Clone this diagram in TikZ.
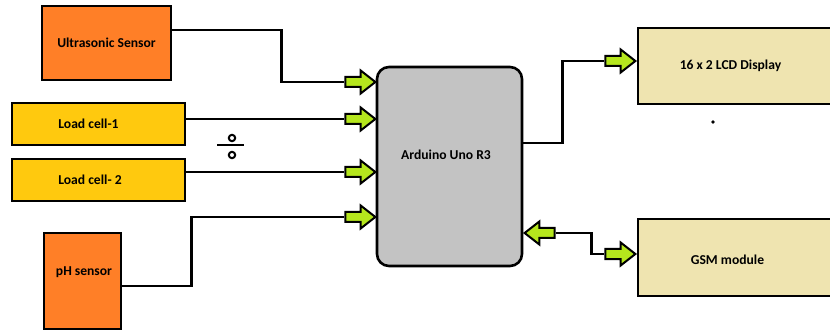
\documentclass[tikz,border=0pt]{standalone}
\usepackage{fontspec}
\setmainfont{Carlito}
\usepackage{tikz}
\usetikzlibrary{shapes.arrows}

\definecolor{sensororange}{HTML}{FF7F27}
\definecolor{cellyellow}{HTML}{FFC90E}
\definecolor{boardgray}{HTML}{C3C3C3}
\definecolor{outtan}{HTML}{EFE4B0}
\definecolor{arrowgreen}{HTML}{B5E61D}

\begin{document}
\begin{tikzpicture}[
    x = 1pt, y = -1pt,
    line width = 2.6pt,
    font = \bfseries\fontsize{13.6}{15}\selectfont,
    block/.style = {draw, rectangle, inner sep = 0pt},
    sensor/.style = {fill = sensororange},
    cell/.style = {fill = cellyellow,
      minimum width = 173pt, minimum height = 42pt},
    board/.style = {fill = boardgray, rounded corners = 12pt},
    output/.style = {fill = outtan,
      minimum width = 212pt},
    fat/.style = {draw, single arrow, fill = arrowgreen,
      line width = 2pt, inner xsep = 0pt, inner ysep = 4pt,
      minimum height = 30pt, minimum width = 0pt,
      single arrow head extend = 6.5pt,
      single arrow tip angle = 76, anchor = tip},
    back/.style = {shape border rotate = 180},
    ]

    \clip (0, 0) rectangle (830, 331);

    \node at (106.5, 43)
    [block, sensor, minimum width = 129pt, minimum height = 74pt,
      name = us] {Ultrasonic Sensor};

    \node at (98.5, 124)
    [block, cell, name = lc1,
      label = {[xshift = -10pt]center:Load cell-1}] {};
    \node at (98.5, 180)
    [block, cell, name = lc2,
      label = {[xshift = -8.5pt]center:Load cell- 2}] {};

    \node at (82.5, 281)
    [block, sensor, minimum width = 77pt, minimum height = 96pt,
      name = ph, label = {[xshift = 1.5pt, yshift = 9pt]center:pH sensor}] {};

    \node at (449.5, 166.5)
    [block, board, minimum width = 145pt, minimum height = 199pt,
      name = ard, label = {[xshift = -3.5pt, yshift = 12pt]center:Arduino Uno R3}] {};

    \node at (744, 66)
    [block, output, minimum height = 76pt, name = lcd,
      label = {[xshift = -13.5pt]center:16 x 2 LCD Display}] {};
    \node at (744, 257.5)
    [block, output, minimum height = 77pt, name = gsm,
      label = {[xshift = -16.5pt, yshift = -2.5pt]center:GSM module}] {};

    % block arrows
    \node at (377, 82) [fat, name = a_us] {};
    \node at (377, 119) [fat, name = a_lc1] {};
    \node at (377, 172) [fat, name = a_lc2] {};
    \node at (377, 217) [fat, name = a_ph] {};
    \node at (637, 61) [fat, name = a_lcd] {};
    \node at (523, 233) [fat, back, name = a_ard] {};
    \node at (637, 254) [fat, name = a_gsm] {};

    % wires
    \draw ([yshift = 13pt]us.east) -- ++(109, 0) |- (a_us.tail);
    \draw (lc1.east |- a_lc1.tail) -- (a_lc1.tail);
    \draw (lc2.east |- a_lc2.tail) -- (a_lc2.tail);
    \draw ([yshift = -5pt]ph.east) -- ++(69, 0) |- (a_ph.tail);
    \draw ([yshift = 23.5pt]ard.east) -- ++(39, 0) |- (a_lcd.tail);
    \draw (a_ard.tail) -- ++(36, 0) |- (a_gsm.tail);

    % stray marks
    \draw [line width = 2.4pt] (217, 145) -- (244, 145);
    \draw [line width = 2pt] (232, 138) circle (3.2pt);
    \draw [line width = 2pt] (232, 155) circle (3.2pt);
    \fill (713, 122) circle (1.8pt);
  \end{tikzpicture}
\end{document}
